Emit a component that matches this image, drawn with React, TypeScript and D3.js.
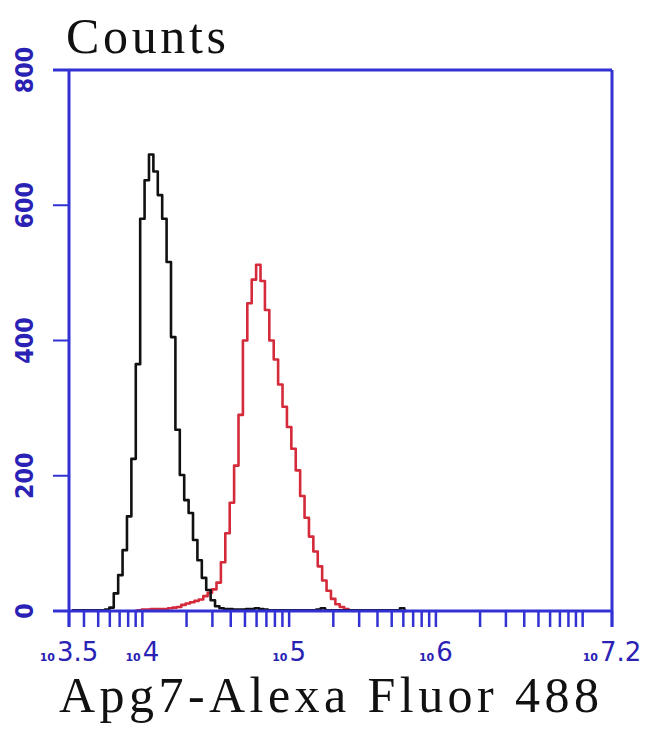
import React from "react";
import * as d3 from "d3";

// Histogram bins (log10 of fluorescence), step 0.03 decade
const binStep = 0.03;
const blackStart = 3.52;
const blackCounts = [
  1, 1, 1, 1, 1, 1, 1, 1, 2, 5, 26, 53, 90, 140, 225, 365, 580, 637, 675, 650,
  615, 580, 516, 405, 268, 201, 164, 145, 105, 75, 49, 31, 16, 7, 4, 3, 3, 2, 2, 2,
  3, 3, 4, 3, 2, 1, 1, 1, 1, 1, 1, 1, 1, 1, 1, 1, 2, 4, 1, 1,
  1, 1, 1, 1, 1, 1, 1, 1, 1, 1, 1, 1, 1, 1, 1, 4, 0,
];
const redStart = 3.95;
const redCounts = [
  0, 1, 2, 2, 3, 3, 3, 3, 4, 5, 6, 9, 11, 13, 15, 17, 22, 27, 32, 42,
  72, 115, 160, 215, 290, 400, 455, 490, 512, 488, 445, 400, 372, 335, 302, 272, 240, 208, 170, 138,
  110, 88, 66, 45, 30, 18, 10, 6, 3, 1, 0,
];

const yTicks = [0, 200, 400, 600, 800];
const yTickLabels = ["0", "200", "400", "600", "800"];
const xTickExps = [3.5, 4, 5, 6, 7.2];
const xTickLabels = ["3.5", "4", "5", "6", "7.2"];

const W = 650;
const H = 734;
const LEFT = 69;
const RIGHT = 612;
const TOP = 70;
const BOTTOM = 611;
const AXIS = "#3232d4";
const LABEL = "#2a22b4";

export default function App() {
  const x = d3.scaleLog().domain([Math.pow(10, 3.5), Math.pow(10, 7.2)]).range([LEFT, RIGHT]);
  const y = d3.scaleLinear().domain([0, 800]).range([BOTTOM, TOP]);

  const toPts = (start: number, counts: number[]) =>
    counts.map((c, i) => ({ v: Math.pow(10, start + i * binStep), c }));

  const line = d3
    .line<{ v: number; c: number }>()
    .x((d) => x(d.v))
    .y((d) => y(d.c))
    .curve(d3.curveStep);

  const blackPath = line(toPts(blackStart, blackCounts)) || "";
  const redPath = line(toPts(redStart, redCounts)) || "";

  const xt = x.ticks().filter((t) => t >= x.domain()[0] && t <= x.domain()[1]);
  const allXTicks = [x.domain()[0], ...xt, x.domain()[1]];

  return (
    <svg
      width={W}
      height={H}
      style={{ position: "absolute", left: 0, top: 0, background: "#fff" }}
    >
      <rect x={0} y={0} width={W} height={H} fill="#fff" />
      {/* curves */}
      <path d={redPath} fill="none" stroke="#d42a3a" strokeWidth={2.6} strokeLinejoin="round" />
      <path d={blackPath} fill="none" stroke="#111" strokeWidth={2.6} strokeLinejoin="round" />

      {/* frame */}
      <g stroke={AXIS} strokeWidth={3} fill="none">
        <line x1={LEFT - 16} x2={RIGHT} y1={TOP} y2={TOP} />
        <line x1={LEFT - 16} x2={RIGHT} y1={BOTTOM} y2={BOTTOM} />
        <line x1={LEFT} x2={LEFT} y1={TOP} y2={BOTTOM + 16} />
        <line x1={RIGHT} x2={RIGHT} y1={TOP} y2={BOTTOM + 16} />
      </g>

      {/* y ticks */}
      <g stroke={AXIS} strokeWidth={2}>
        {yTicks.map((t) => (
          <line key={t} x1={LEFT - 16} x2={LEFT} y1={y(t)} y2={y(t)} />
        ))}
      </g>
      {yTicks.map((t, i) => (
        <text
          key={"yl" + t}
          transform={`translate(33,${y(t)}) rotate(-90)`}
          textAnchor="middle"
          fontFamily="DejaVu Sans"
          fontWeight="bold"
          fontSize={24}
          fill={LABEL}
          textLength={yTickLabels[i].length * 15.5}
          lengthAdjust="spacingAndGlyphs"
        >
          {yTickLabels[i]}
        </text>
      ))}

      {/* x ticks */}
      <g stroke={AXIS} strokeWidth={2.5}>
        {allXTicks.map((t, i) => (
          <line key={i} x1={x(t)} x2={x(t)} y1={BOTTOM} y2={BOTTOM + 16} />
        ))}
      </g>
      {xTickExps.map((e, i) => (
        <text
          key={"xl" + i}
          x={x(Math.pow(10, e))}
          y={661}
          textAnchor="middle"
          fontFamily="DejaVu Sans"
          fill={LABEL}
        >
          <tspan fontSize={11} fontWeight="bold">10</tspan>
          <tspan fontSize={26} dx={2}>{xTickLabels[i]}</tspan>
        </text>
      ))}

      {/* titles */}
      <text
        x={66}
        y={53}
        fontFamily="Liberation Serif"
        fontSize={50}
        fill="#111"
        textLength={160}
        lengthAdjust="spacing"
      >
        Counts
      </text>
      <text
        x={59}
        y={712}
        fontFamily="Liberation Serif"
        fontSize={50}
        fill="#111"
        textLength={540}
        lengthAdjust="spacing"
      >
        Apg7-Alexa Fluor 488
      </text>
    </svg>
  );
}
